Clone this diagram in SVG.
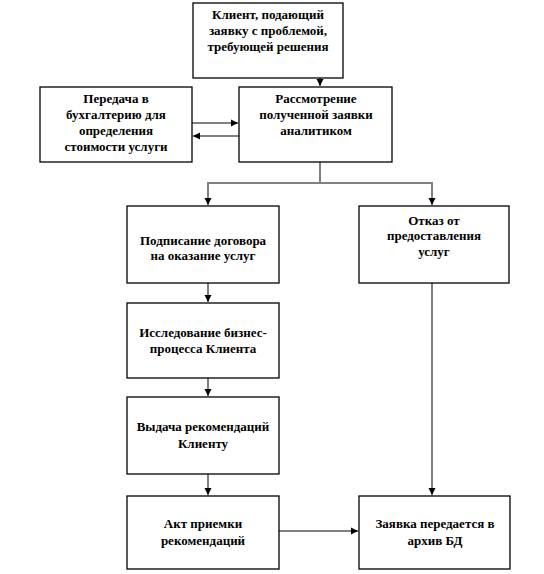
<svg xmlns="http://www.w3.org/2000/svg" width="544" height="574" viewBox="0 0 544 574">
<style>
.box{fill:#fff;stroke:#000;stroke-width:1.3}
.t{font-family:'Liberation Serif','Times New Roman','DejaVu Serif',serif;font-weight:bold;font-size:13px;fill:#000;text-anchor:middle}
.c{fill:none;stroke:#808080;stroke-width:2}
.k{fill:none;stroke:#000;stroke-width:1}
</style>
<defs>
<marker id="ah" markerWidth="8" markerHeight="8" refX="7" refY="4" orient="auto" markerUnits="userSpaceOnUse">
<path d="M0,0.5 L7,4 L0,7.5 Z" fill="#000"/>
</marker>
</defs>
<rect width="544" height="574" fill="#fff"/>
<g id="connectors">
<path class="c" d="M320,78 V86" marker-end="url(#ah)"/>
<path class="c" d="M192,123 H238" marker-end="url(#ah)"/>
<path class="c" d="M239,136 H193" marker-end="url(#ah)"/>
<path class="c" d="M320,162 V183 H208 V205" marker-end="url(#ah)"/>
<path class="c" d="M320,183 H432 V205" marker-end="url(#ah)"/>
<path class="c" d="M208,283 V302" marker-end="url(#ah)"/>
<path class="c" d="M208,378 V396" marker-end="url(#ah)"/>
<path class="c" d="M208,474 V495" marker-end="url(#ah)"/>
<path class="c" d="M432,283 V495" marker-end="url(#ah)"/>
<path class="k" d="M279,531 H358" marker-end="url(#ah)"/>
</g>
<g id="n1"><rect class="box" x="193" y="3" width="150" height="75"/>
<text class="t" x="268" y="19">Клиент, подающий</text>
<text class="t" x="268" y="35">заявку с проблемой,</text>
<text class="t" x="268" y="51">требующей решения</text></g>
<g id="n2"><rect class="box" x="40" y="87" width="152" height="75"/>
<text class="t" x="116" y="103">Передача в</text>
<text class="t" x="116" y="119">бухгалтерию  для</text>
<text class="t" x="116" y="135">определения</text>
<text class="t" x="116" y="151">стоимости услуги</text></g>
<g id="n3"><rect class="box" x="239" y="87" width="153" height="75"/>
<text class="t" x="316" y="103">Рассмотрение</text>
<text class="t" x="316" y="119">полученной заявки</text>
<text class="t" x="316" y="135">аналитиком</text></g>
<g id="n4"><rect class="box" x="127" y="206" width="152" height="77"/>
<text class="t" x="203" y="245">Подписание договора</text>
<text class="t" x="203" y="260">на оказание услуг</text></g>
<g id="n5"><rect class="box" x="359" y="206" width="150" height="77"/>
<text class="t" x="434" y="225">Отказ от</text>
<text class="t" x="434" y="240">предоставления</text>
<text class="t" x="434" y="256">услуг</text></g>
<g id="n6"><rect class="box" x="127" y="303" width="152" height="75"/>
<text class="t" x="203" y="337">Исследование  бизнес-</text>
<text class="t" x="203" y="353">процесса Клиента</text></g>
<g id="n7"><rect class="box" x="127" y="397" width="152" height="77"/>
<text class="t" x="203" y="431">Выдача  рекомендаций</text>
<text class="t" x="203" y="448">Клиенту</text></g>
<g id="n8"><rect class="box" x="127" y="496" width="152" height="73"/>
<text class="t" x="203" y="528">Акт приемки</text>
<text class="t" x="203" y="545">рекомендаций</text></g>
<g id="n9"><rect class="box" x="359" y="496" width="151" height="73"/>
<text class="t" x="435" y="528">Заявка передается в</text>
<text class="t" x="435" y="545">архив БД</text></g>
</svg>
